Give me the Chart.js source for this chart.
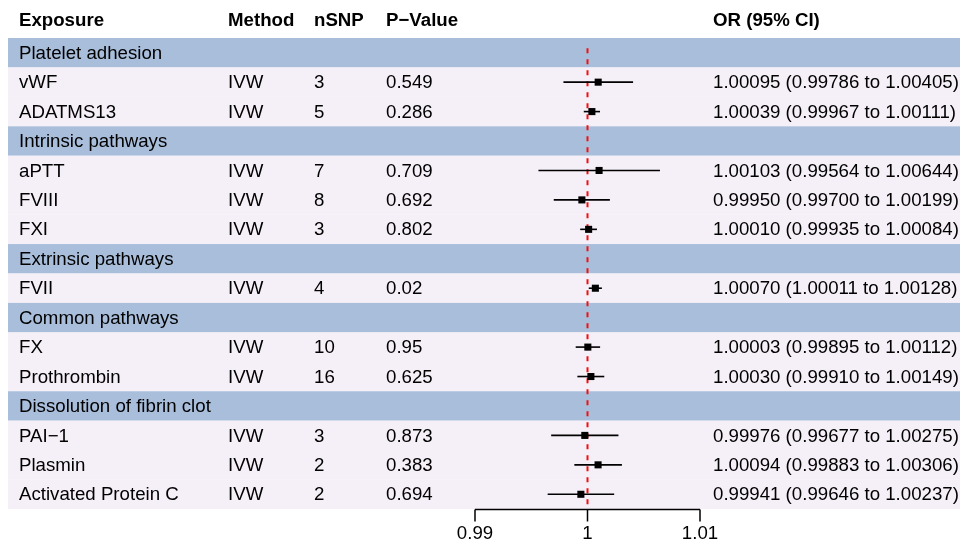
<!DOCTYPE html>
<html>
<head>
<meta charset="utf-8">
<script src="https://cdn.jsdelivr.net/npm/chart.js@4"></script>
<style>
  html, body { margin: 0; padding: 0; background: #fff; }
</style>
</head>
<body>
<canvas id="forestChart" width="960" height="542"></canvas>
<script>
const groups = ["Platelet adhesion", "Intrinsic pathways", "Extrinsic pathways", "Common pathways", "Dissolution of fibrin clot"];
const exposures = ["vWF", "ADATMS13", "aPTT", "FVIII", "FXI", "FVII", "FX", "Prothrombin", "PAI\u22121", "Plasmin", "Activated Protein C"];
const groupOf = [0, 0, 1, 1, 1, 2, 3, 3, 4, 4, 4];
const methods = ["IVW", "IVW", "IVW", "IVW", "IVW", "IVW", "IVW", "IVW", "IVW", "IVW", "IVW"];
const nSNP = [3, 5, 7, 8, 3, 4, 10, 16, 3, 2, 2];
const pValues = ["0.549", "0.286", "0.709", "0.692", "0.802", "0.02", "0.95", "0.625", "0.873", "0.383", "0.694"];
const orEst = [1.00095, 1.00039, 1.00103, 0.99950, 1.00010, 1.00070, 1.00003, 1.00030, 0.99976, 1.00094, 0.99941];
const ciLow = [0.99786, 0.99967, 0.99564, 0.99700, 0.99935, 1.00011, 0.99895, 0.99910, 0.99677, 0.99883, 0.99646];
const ciHigh = [1.00405, 1.00111, 1.00644, 1.00199, 1.00084, 1.00128, 1.00112, 1.00149, 1.00275, 1.00306, 1.00237];
const xTicks = [0.99, 1, 1.01];
const headers = ["Exposure", "Method", "nSNP", "P\u2212Value", "OR (95% CI)"];

// build table rows: group band followed by its exposures
const rows = [];
const rowOf = [];
exposures.forEach((name, i) => {
  if (i === 0 || groupOf[i] !== groupOf[i - 1]) rows.push({ group: groups[groupOf[i]] });
  rowOf.push(rows.length);
  rows.push({ idx: i });
});

const bandColor = "#a8bedb";
const rowColor = "#f5eff7";
const font = "18.67px 'Liberation Sans', Arial, sans-serif";
const boldFont = "bold 18.67px 'Liberation Sans', Arial, sans-serif";
const colX = [19, 228, 314, 386, 713];

const fmt = v => v.toFixed(5);

const tablePlugin = {
  id: "forestTable",
  beforeDatasetsDraw(chart) {
    const { ctx, chartArea, scales: { y } } = chart;
    ctx.save();
    rows.forEach((row, r) => {
      const top = y.getPixelForValue(r - 0.5);
      const bot = y.getPixelForValue(r + 0.5);
      ctx.fillStyle = row.group ? bandColor : rowColor;
      ctx.fillRect(chartArea.left, top, chartArea.right - chartArea.left, bot - top);
    });
    ctx.restore();
  },
  afterDatasetsDraw(chart) {
    const { ctx, chartArea, scales: { x, y } } = chart;
    ctx.save();
    ctx.fillStyle = "#000";
    ctx.textBaseline = "middle";
    ctx.textAlign = "left";

    ctx.font = boldFont;
    headers.forEach((h, c) => ctx.fillText(h, colX[c], 21));

    ctx.font = font;
    rows.forEach((row, r) => {
      const py = y.getPixelForValue(r) + 1;
      if (row.group) {
        ctx.fillText(row.group, colX[0], py);
      } else {
        const i = row.idx;
        ctx.fillText(exposures[i], colX[0], py);
        ctx.fillText(methods[i], colX[1], py);
        ctx.fillText(String(nSNP[i]), colX[2], py);
        ctx.fillText(pValues[i], colX[3], py);
        ctx.fillText(fmt(orEst[i]) + " (" + fmt(ciLow[i]) + " to " + fmt(ciHigh[i]) + ")", colX[4], py);
      }
    });

    // x axis under the plot column
    const y0 = chartArea.bottom + 0.5;
    const xa = x.getPixelForValue(xTicks[0]);
    const xb = x.getPixelForValue(xTicks[xTicks.length - 1]);
    ctx.strokeStyle = "#000";
    ctx.lineWidth = 1.5;
    ctx.beginPath();
    ctx.moveTo(xa, y0);
    ctx.lineTo(xb, y0);
    xTicks.forEach(t => {
      const px = x.getPixelForValue(t);
      ctx.moveTo(px, y0);
      ctx.lineTo(px, y0 + 12);
    });
    ctx.stroke();
    ctx.textAlign = "center";
    xTicks.forEach(t => ctx.fillText(String(t), x.getPixelForValue(t), y0 + 24));
    ctx.restore();
  }
};

const ciSets = exposures.map((name, i) => ({
  type: "line",
  label: name + " CI",
  data: [{ x: ciLow[i], y: rowOf[i] }, { x: ciHigh[i], y: rowOf[i] }],
  borderColor: "#000",
  borderWidth: 1.6,
  pointRadius: 0,
  showLine: true,
  order: 2
}));

const ctx = document.getElementById("forestChart").getContext("2d");
const forestChart = new Chart(ctx, {
  type: "scatter",
  data: {
    datasets: [
      {
        label: "OR",
        data: exposures.map((name, i) => ({ x: orEst[i], y: rowOf[i] })),
        pointStyle: "rect",
        pointRadius: 5,
        backgroundColor: "#000",
        borderWidth: 0,
        order: 1
      },
      ...ciSets,
      {
        type: "line",
        label: "ref",
        data: [{ x: 1, y: -0.15 }, { x: 1, y: rows.length - 0.5 }],
        borderColor: "#f01010",
        backgroundColor: "#f01010",
        borderWidth: 2,
        borderDash: [5, 6],
        pointRadius: 0,
        showLine: true,
        order: 3
      }
    ]
  },
  options: {
    responsive: false,
    animation: false,
    layout: { autoPadding: false, padding: { left: 8, right: 0, top: 38, bottom: 33 } },
    plugins: { legend: { display: false }, tooltip: { enabled: false } },
    scales: {
      x: { type: "linear", min: 0.94849, max: 1.03311, display: false },
      y: { type: "linear", min: -0.5, max: rows.length - 0.5, reverse: true, display: false }
    }
  },
  plugins: [tablePlugin]
});
</script>
</body>
</html>
